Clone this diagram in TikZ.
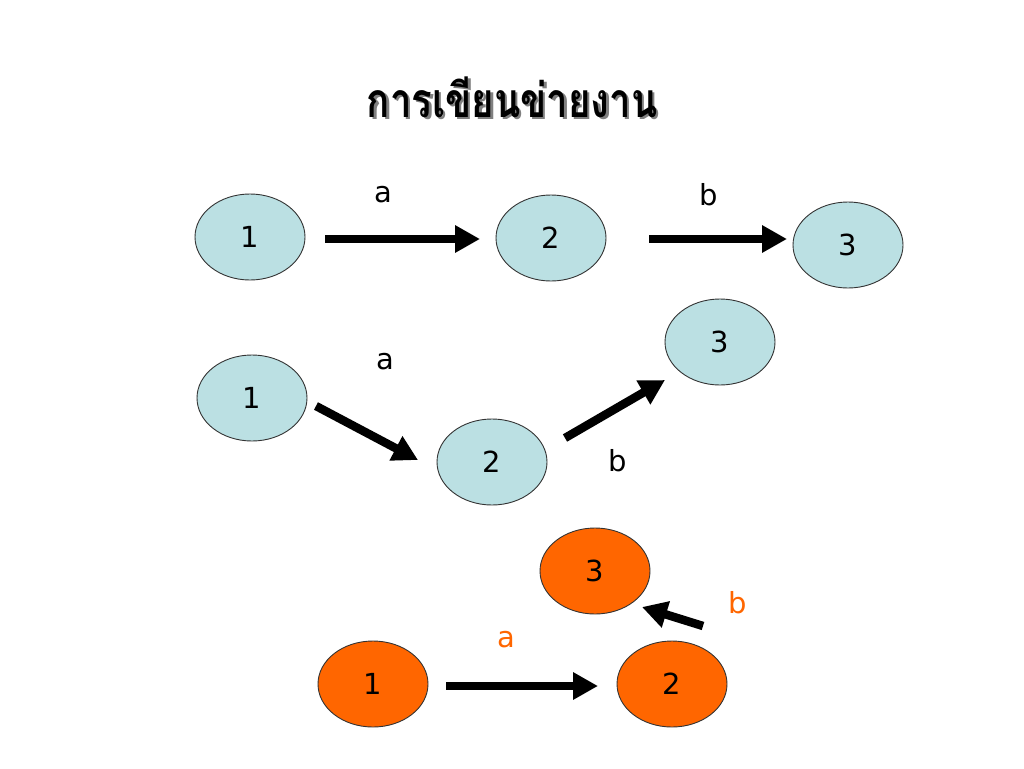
\documentclass[tikz,border=0pt]{standalone}
\usepackage{fontspec}
\setmainfont{DejaVu Sans}
\newfontfamily\thaifont[Script=Thai]{Loma}
\usetikzlibrary{arrows.meta,shapes.geometric}
\definecolor{lblue}{RGB}{187,224,227}
\definecolor{orng}{RGB}{255,102,0}
\tikzset{
  ev/.style={ellipse, draw=black!80, line width=0.9pt, minimum width=110pt, minimum height=86pt, inner sep=0pt, font=\fontsize{29}{34}\selectfont},
  evb/.style={ev, fill=lblue},
  evo/.style={ev, fill=orng},
  act/.style={line width=8.5pt, -{Triangle[length=25pt,width=26pt]}},
  lbl/.style={font=\fontsize{29}{34}\selectfont, inner sep=0pt},
  ttl/.style={font=\thaifont\bfseries\fontsize{48}{54}\selectfont, xscale=0.8},
}
\begin{document}
\begin{tikzpicture}[x=1pt,y=-1pt]
\useasboundingbox (0,0) rectangle (1024,768);
% title with shadow
\node[ttl, text=black!50] at (514.5,99.5) {การเขียนข่ายงาน};
\node (title) [ttl] at (512,97) {การเขียนข่ายงาน};
% row 1
\node[evb] (a1) at (250,237) {1};
\node[evb] (a2) at (551,238) {2};
\node[evb] (a3) at (848,245) {3};
\coordinate (a1s) at (325,239); \coordinate (a1e) at (480,239);
\coordinate (a2s) at (649,239); \coordinate (a2e) at (787,239);
\draw[act] (a1s) -- (a1e);
\draw[act] (a2s) -- (a2e);
\node[lbl] (la1) at (383,195) {a};
\node[lbl] (lb1) at (709,195) {b};
% row 2
\node[evb] (b1) at (252,398) {1};
\node[evb] (b2) at (492,462) {2};
\node[evb] (b3) at (720,342) {3};
\coordinate (b1s) at (316,406); \coordinate (b1e) at (418,460);
\coordinate (b2s) at (565,438); \coordinate (b2e) at (665,380);
\draw[act] (b1s) -- (b1e);
\draw[act] (b2s) -- (b2e);
\node[lbl] (la2) at (385,362) {a};
\node[lbl] (lb2) at (618,461) {b};
% row 3
\node[evo] (c3) at (595,571) {3};
\node[evo] (c1) at (373,684) {1};
\node[evo] (c2) at (672,684) {2};
\coordinate (c1s) at (446,686); \coordinate (c1e) at (598,686);
\coordinate (c2s) at (703,626); \coordinate (c2e) at (642,607);
\draw[act] (c1s) -- (c1e);
\draw[act] (c2s) -- (c2e);
\node[lbl, text=orng] (la3) at (506,640) {a};
\node[lbl, text=orng] (lb3) at (738,603) {b};
\end{tikzpicture}
\end{document}
